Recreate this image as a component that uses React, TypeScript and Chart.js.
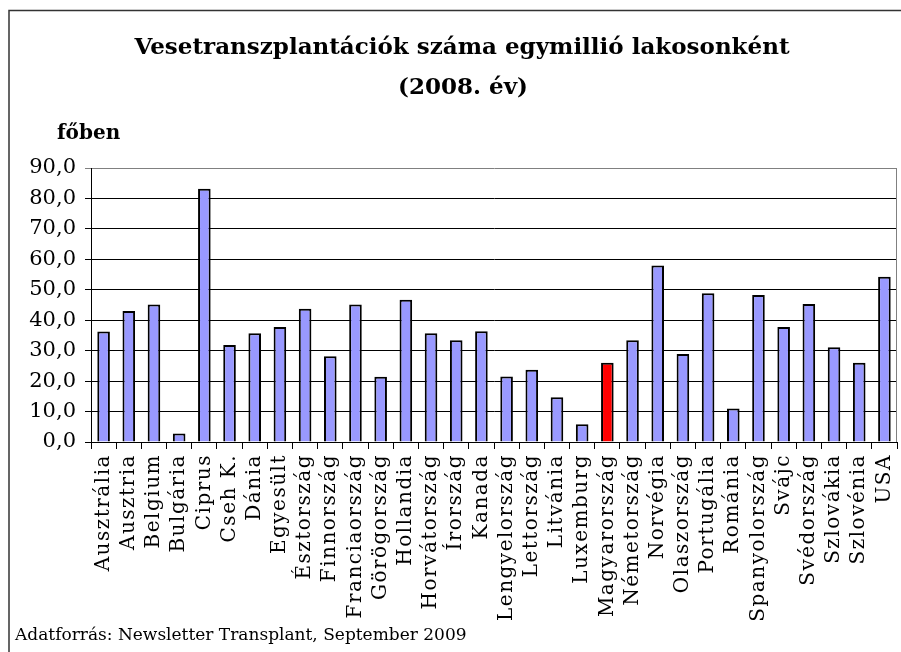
import React, { useEffect, useRef } from "react";
import { Chart, registerables } from "chart.js";

Chart.register(...registerables);

const categories: string[] = [
  "Ausztrália", "Ausztria", "Belgium", "Bulgária", "Ciprus", "Cseh K.", "Dánia", "Egyesült",
  "Észtország", "Finnország", "Franciaország", "Görögország", "Hollandia", "Horvátország",
  "Írország", "Kanada", "Lengyelország", "Lettország", "Litvánia", "Luxemburg", "Magyarország",
  "Németország", "Norvégia", "Olaszország", "Portugália", "Románia", "Spanyolország", "Svájc",
  "Svédország", "Szlovákia", "Szlovénia", "USA",
];

const values: number[] = [
  36.3, 43.0, 45.2, 2.8, 83.2, 31.9, 35.7, 37.8,
  43.8, 28.2, 45.2, 21.4, 46.7, 35.7,
  33.4, 36.4, 21.5, 23.7, 14.7, 5.8, 26.0,
  33.4, 58.0, 28.9, 48.9, 11.0, 48.3, 37.8,
  45.3, 31.1, 26.0, 54.3,
];

const highlighted: string[] = ["Magyarország"];

const titleLines: string[] = ["Vesetranszplantációk száma egymillió lakosonként", "(2008. év)"];
const unitLabel = "főben";
const sourceNote = "Adatforrás: Newsletter Transplant, September 2009";

const yMin = 0;
const yMax = 90;
const yStep = 10;

const W = 901;
const H = 652;
const AREA = { left: 91, top: 168, right: 897, bottom: 442 };

const decorPlugin = {
  id: "decor",
  beforeDraw(chart: any) {
    const ctx = chart.ctx;
    ctx.save();
    ctx.fillStyle = "#ffffff";
    ctx.fillRect(0, 0, chart.width, chart.height);
    ctx.restore();
  },
  afterDraw(chart: any) {
    const ctx = chart.ctx;
    const ca = chart.chartArea;
    ctx.save();
    // plot area right border
    ctx.strokeStyle = "#808080";
    ctx.lineWidth = 1;
    ctx.beginPath();
    ctx.moveTo(Math.round(ca.right) - 0.5, ca.top);
    ctx.lineTo(Math.round(ca.right) - 0.5, ca.bottom);
    ctx.stroke();
    // outer frame
    ctx.strokeStyle = "#333333";
    ctx.lineWidth = 1.5;
    ctx.strokeRect(9, 10.5, 2000, 2000);
    // title
    ctx.fillStyle = "#000";
    ctx.textAlign = "center";
    ctx.textBaseline = "middle";
    ctx.font = "bold 23px 'DejaVu Serif'";
    ctx.fillText(titleLines[0], 462, 48);
    ctx.fillText(titleLines[1], 463, 88);
    // unit
    ctx.textAlign = "left";
    ctx.font = "bold 20px 'DejaVu Serif'";
    ctx.fillText(unitLabel, 57, 134);
    // source
    ctx.font = "17px 'DejaVu Serif'";
    ctx.fillText(sourceNote, 15, 636);
    ctx.restore();
  },
};

export default function App() {
  const ref = useRef<HTMLCanvasElement | null>(null);

  useEffect(() => {
    if (!ref.current) return;
    const chart = new Chart(ref.current, {
      type: "bar",
      data: {
        labels: categories,
        datasets: [
          {
            data: values,
            backgroundColor: categories.map((c) => (highlighted.includes(c) ? "#FF0000" : "#9999FF")),
            borderColor: "#000000",
            borderWidth: 2,
            barPercentage: 0.5,
            categoryPercentage: 1,
          },
        ],
      },
      options: {
        animation: false,
        responsive: false,
        devicePixelRatio: 1,
        layout: {
          padding: { left: 9, top: AREA.top, right: W - AREA.right, bottom: 0 },
        },
        plugins: {
          legend: { display: false },
          title: { display: false },
          tooltip: { enabled: false },
        },
        scales: {
          x: {
            offset: true,
            grid: {
              offset: true,
              drawOnChartArea: false,
              drawTicks: true,
              tickLength: 7,
              color: "#000",
            },
            border: { color: "#000", width: 1 },
            ticks: {
              autoSkip: false,
              minRotation: 90,
              maxRotation: 90,
              padding: 5,
              color: "#000",
              font: { family: "'DejaVu Serif'", size: 20 },
            },
            afterFit(scale: any) {
              scale.height = H - AREA.bottom;
              scale.paddingLeft = 0;
              scale.paddingRight = 0;
              if (!scale.__spaced) {
                const orig = scale.drawLabels.bind(scale);
                scale.drawLabels = (area: any) => {
                  const c = scale.ctx as any;
                  const prev = c.letterSpacing;
                  c.letterSpacing = "1.5px";
                  orig(area);
                  c.letterSpacing = prev || "0px";
                };
                scale.__spaced = true;
              }
            },
          },
          y: {
            min: yMin,
            max: yMax,
            grid: {
              color: (c: any) => (c.tick && c.tick.value === yMax ? "#808080" : "#000000"),
              tickLength: 6,
              lineWidth: 1,
            },
            border: { color: "#000", width: 1 },
            ticks: {
              stepSize: yStep,
              padding: 9,
              color: "#000",
              font: { family: "'DejaVu Serif'", size: 21 },
              callback: (v: any) => Number(v).toFixed(1).replace(".", ","),
            },
            afterFit(scale: any) {
              scale.width = AREA.left - 9;
              scale.paddingTop = 0;
              scale.paddingBottom = 0;
            },
          },
        },
      },
      plugins: [decorPlugin],
    });
    return () => chart.destroy();
  }, []);

  return (
    <div style={{ position: "absolute", left: 0, top: 0, width: W, height: H, background: "#fff" }}>
      <canvas ref={ref} width={W} height={H} style={{ display: "block", width: W, height: H }} />
    </div>
  );
}
